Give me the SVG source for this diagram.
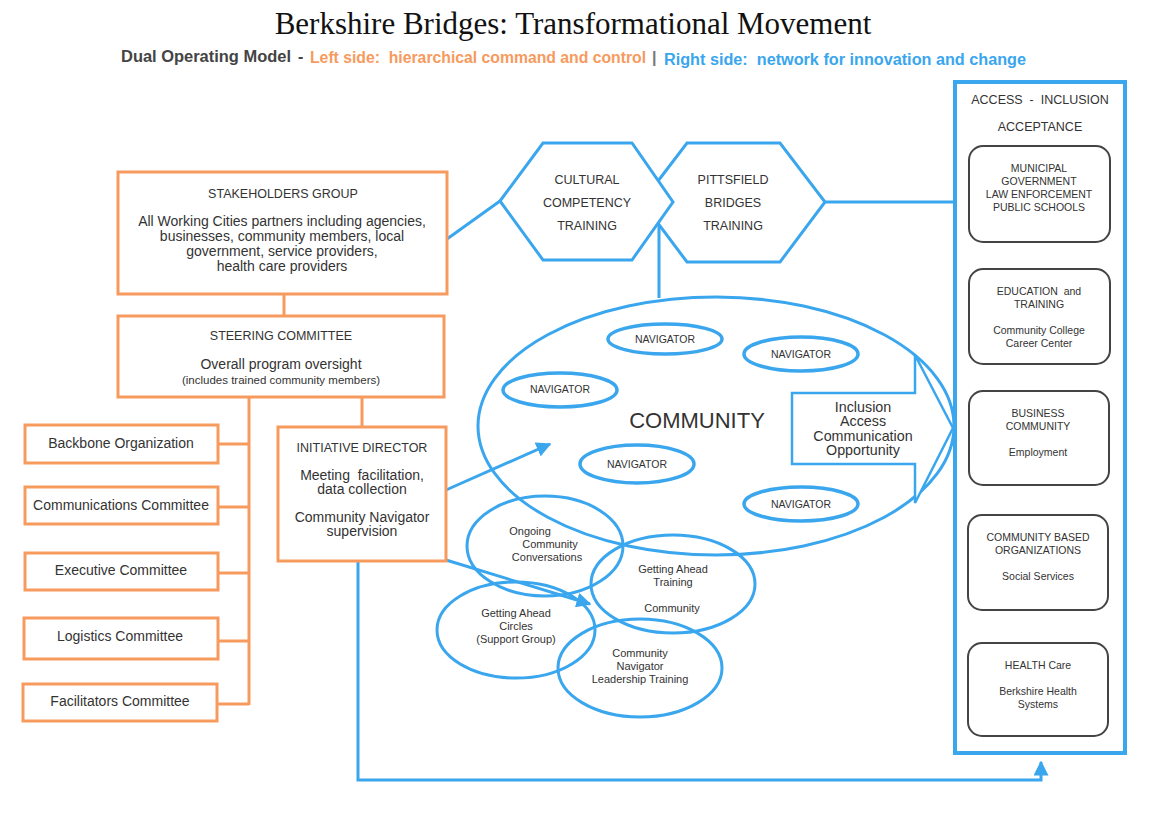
<svg xmlns="http://www.w3.org/2000/svg" width="1162" height="821" viewBox="0 0 1162 821">
<defs>
<style>
.o{fill:#fff;stroke:#F79A5E;stroke-width:3}
.b{fill:none;stroke:#3AA6EE;stroke-width:3}
.bl{fill:none;stroke:#3AA6EE;stroke-width:2.5}
.nav{fill:none;stroke:#3AA6EE;stroke-width:3.5}
.ol{fill:none;stroke:#F79A5E;stroke-width:3}
.g{fill:#fff;stroke:#444;stroke-width:2}
text{font-family:"Liberation Sans",Arial,sans-serif;fill:#333;text-anchor:middle;white-space:pre}
.t14{font-size:14px}
.t12{font-size:12.5px}
.t11{font-size:11px}
.tn{font-size:10.5px}
.t10{font-size:10.5px}
.t13{font-size:14.3px}
.sub{font-size:16px;font-weight:bold;text-anchor:start}
</style>
<marker id="ah" viewBox="0 0 10 10" refX="9" refY="5" markerWidth="5" markerHeight="5" orient="auto"><path d="M0,0L10,5L0,10z" fill="#3AA6EE"/></marker>
</defs>
<rect width="1162" height="821" fill="#fff"/>
<text x="573" y="34" style="font-family:'Liberation Serif','Times New Roman',serif;font-size:31px;fill:#111">Berkshire Bridges: Transformational Movement</text>
<text class="sub" x="121" y="62" textLength="170" lengthAdjust="spacingAndGlyphs" style="fill:#444">Dual Operating Model</text>
<text class="sub" x="298" y="62" style="fill:#444">-</text>
<text class="sub" x="310" y="63" textLength="336" lengthAdjust="spacingAndGlyphs" style="fill:#F79A5E">Left side:  hierarchical command and control</text>
<text class="sub" x="652" y="63" style="fill:#777">|</text>
<text class="sub" x="664" y="65" textLength="362" lengthAdjust="spacingAndGlyphs" style="fill:#3AA6EE">Right side:  network for innovation and change</text>

<g id="connectors">
<path class="ol" d="M284,294V316M249,397V705M218,444H249M218,507H249M218,573H249M218,641H249M217,704H249M362,397V428"/>
<path class="b" d="M447,239L500,201M659,225V298M825,202H955"/>
<path class="b" d="M446,490L550,444" marker-end="url(#ah)"/>
<path class="b" d="M446,560L590,604" marker-end="url(#ah)"/>
<path class="b" d="M358,561V780H1041V762" marker-end="url(#ah)"/>
</g>

<g id="stakeholders"><rect class="o" x="118" y="172" width="329" height="122"/>
<text class="t12" x="283" y="198">STAKEHOLDERS GROUP</text>
<text class="t14" x="282" y="226">All Working Cities partners including agencies,</text>
<text class="t14" x="282" y="241">businesses, community members, local</text>
<text class="t14" x="282" y="256">government, service providers,</text>
<text class="t14" x="282" y="271">health care providers</text></g>

<g id="steering"><rect class="o" x="118" y="316" width="326" height="81"/>
<text class="t12" x="281" y="340">STEERING COMMITTEE</text>
<text class="t14" x="281" y="369">Overall program oversight</text>
<text x="281" y="384" style="font-size:11.5px">(includes trained community members)</text></g>

<g id="backbone"><rect class="o" x="25" y="425" width="193" height="38"/><text class="t14" x="121" y="448">Backbone Organization</text></g>
<g id="communications"><rect class="o" x="25" y="487" width="193" height="37"/><text class="t14" x="121" y="510">Communications Committee</text></g>
<g id="executive"><rect class="o" x="25" y="553" width="193" height="37"/><text class="t14" x="121" y="575">Executive Committee</text></g>
<g id="logistics"><rect class="o" x="24" y="618" width="194" height="41"/><text class="t14" x="120" y="641">Logistics Committee</text></g>
<g id="facilitators"><rect class="o" x="23" y="684" width="194" height="37"/><text class="t14" x="120" y="706">Facilitators Committee</text></g>

<g id="director"><rect class="o" x="278" y="427" width="168" height="134"/>
<text class="t12" x="362" y="452">INITIATIVE DIRECTOR</text>
<text class="t14" x="362" y="480">Meeting  facilitation,</text>
<text class="t14" x="362" y="494">data collection</text>
<text class="t14" x="362" y="522">Community Navigator</text>
<text class="t14" x="362" y="536">supervision</text></g>

<g id="pittsfield"><polygon class="b" style="fill:#fff" points="642,202 687,143 780,143 825,202 780,262 687,262"/>
<text class="t12" x="733" y="184">PITTSFIELD</text>
<text class="t12" x="733" y="207">BRIDGES</text>
<text class="t12" x="733" y="230">TRAINING</text></g>
<g id="cultural"><polygon class="b" style="fill:#fff" points="500,201 543,143 632,143 673,202 632,260 543,260"/>
<text class="t12" x="587" y="184">CULTURAL</text>
<text class="t12" x="587" y="207">COMPETENCY</text>
<text class="t12" x="587" y="230">TRAINING</text></g>

<g id="community"><ellipse class="b" cx="716" cy="426" rx="238" ry="129"/>
<text x="697" y="428" style="font-size:22px">COMMUNITY</text></g>

<g id="nav1"><ellipse class="nav" cx="665" cy="339" rx="57" ry="15"/><text class="tn" x="665" y="343">NAVIGATOR</text></g>
<g id="nav2"><ellipse class="nav" cx="801" cy="354" rx="57" ry="17"/><text class="tn" x="801" y="358">NAVIGATOR</text></g>
<g id="nav3"><ellipse class="nav" cx="560" cy="390" rx="57" ry="17"/><text class="tn" x="560" y="393">NAVIGATOR</text></g>
<g id="nav4"><ellipse class="nav" cx="637" cy="464" rx="57" ry="19"/><text class="tn" x="637" y="468">NAVIGATOR</text></g>
<g id="nav5"><ellipse class="nav" cx="801" cy="504" rx="57" ry="17"/><text class="tn" x="801" y="508">NAVIGATOR</text></g>

<g id="outcomes"><path class="bl" style="fill:#fff" d="M792,393H915V355L953,428L915,503V464H792Z"/>
<text class="t13" x="863" y="412">Inclusion</text>
<text class="t13" x="863" y="426">Access</text>
<text class="t13" x="863" y="441">Communication</text>
<text class="t13" x="863" y="455">Opportunity</text></g>

<g id="ongoing"><ellipse class="b" cx="545" cy="546" rx="78" ry="50"/>
<text class="t11" x="530" y="535">Ongoing</text>
<text class="t11" x="550" y="548">Community</text>
<text class="t11" x="547" y="561">Conversations</text></g>
<g id="gat"><ellipse class="b" cx="673" cy="584" rx="82" ry="49"/>
<text class="t11" x="673" y="573">Getting Ahead</text>
<text class="t11" x="673" y="586">Training</text>
<text class="t11" x="672" y="612">Community</text></g>
<g id="gac"><ellipse class="b" cx="516" cy="630" rx="79" ry="48"/>
<text class="t11" x="516" y="617">Getting Ahead</text>
<text class="t11" x="516" y="630">Circles</text>
<text class="t11" x="516" y="643">(Support Group)</text></g>
<g id="cnlt"><ellipse class="b" cx="640" cy="668" rx="82" ry="49"/>
<text class="t11" x="640" y="657">Community</text>
<text class="t11" x="640" y="670">Navigator</text>
<text class="t11" x="640" y="683">Leadership Training</text></g>

<g id="access"><rect x="955" y="82" width="170" height="671" style="fill:#fff;stroke:#3AA6EE;stroke-width:4"/>
<text class="t12" x="1040" y="104">ACCESS  -  INCLUSION</text>
<text class="t12" x="1040" y="131">ACCEPTANCE</text></g>
<g id="municipal"><rect class="g" x="969" y="146" width="141" height="96" rx="14"/>
<text class="t10" x="1039" y="172">MUNICIPAL</text>
<text class="t10" x="1039" y="185">GOVERNMENT</text>
<text class="t10" x="1039" y="198">LAW ENFORCEMENT</text>
<text class="t10" x="1039" y="211">PUBLIC SCHOOLS</text></g>
<g id="education"><rect class="g" x="969" y="269" width="141" height="95" rx="14"/>
<text class="t10" x="1039" y="295">EDUCATION  and</text>
<text class="t10" x="1039" y="308">TRAINING</text>
<text class="t10" x="1039" y="334">Community College</text>
<text class="t10" x="1039" y="347">Career Center</text></g>
<g id="business"><rect class="g" x="969" y="391" width="140" height="94" rx="14"/>
<text class="t10" x="1038" y="417">BUSINESS</text>
<text class="t10" x="1038" y="430">COMMUNITY</text>
<text class="t10" x="1038" y="456">Employment</text></g>
<g id="cbo"><rect class="g" x="968" y="515" width="140" height="95" rx="14"/>
<text class="t10" x="1038" y="541">COMMUNITY BASED</text>
<text class="t10" x="1038" y="554">ORGANIZATIONS</text>
<text class="t10" x="1038" y="580">Social Services</text></g>
<g id="health"><rect class="g" x="968" y="643" width="140" height="93" rx="14"/>
<text class="t10" x="1038" y="669">HEALTH Care</text>
<text class="t10" x="1038" y="695">Berkshire Health</text>
<text class="t10" x="1038" y="708">Systems</text></g>
</svg>
